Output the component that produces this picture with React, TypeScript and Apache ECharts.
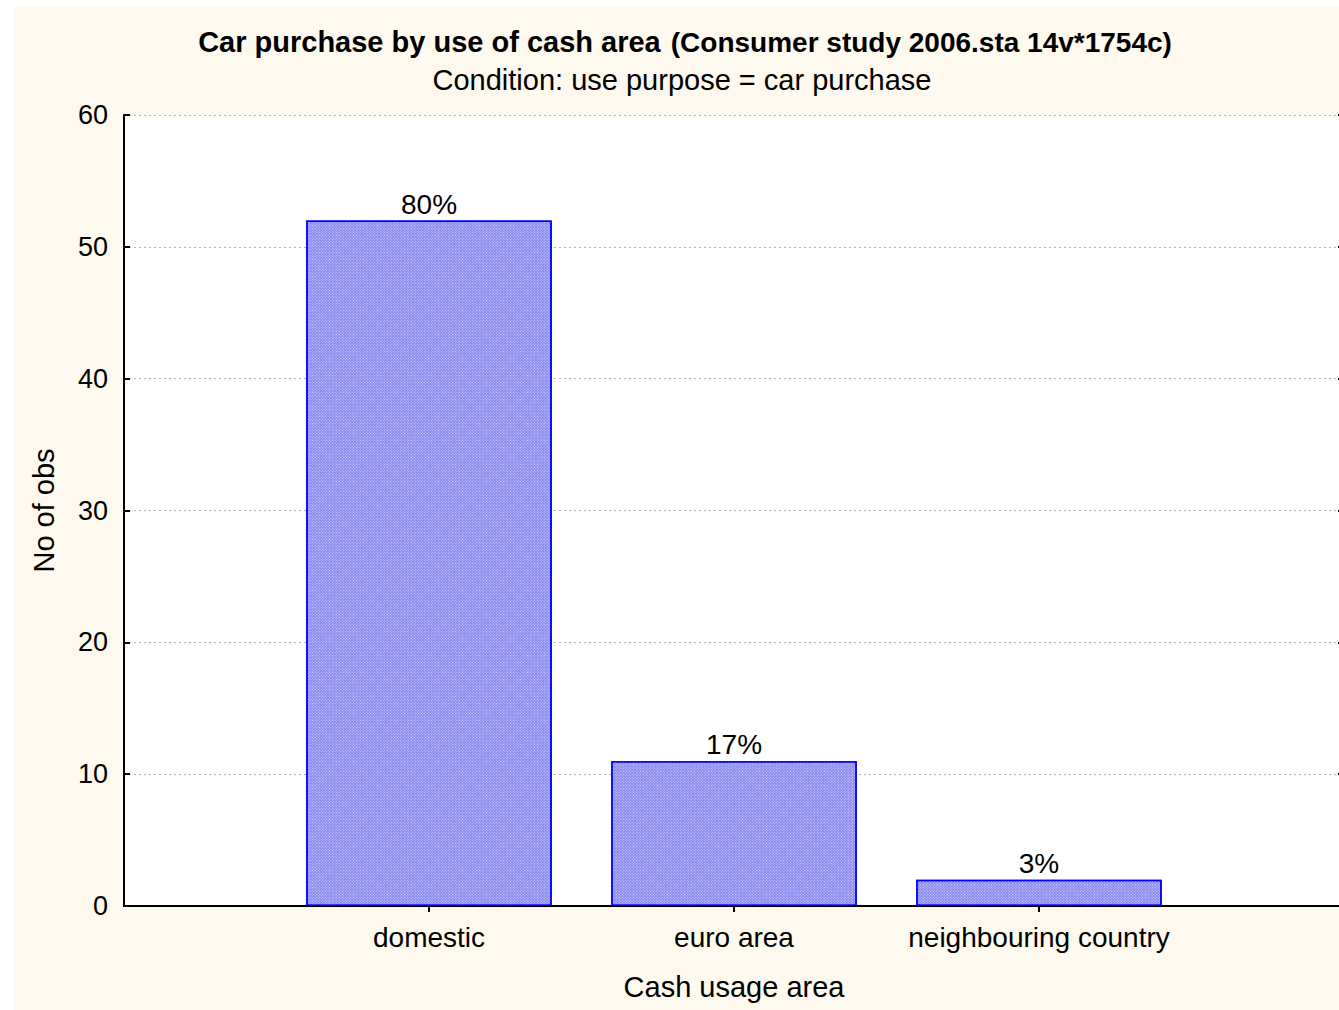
import React, { useEffect, useRef } from "react";
import * as echarts from "echarts";

const categories = ["", "domestic", "euro area", "neighbouring country", ""];
const counts: (number | string)[] = ["-", 52, 11, 2, "-"];
const yTicks = { min: 0, max: 60, interval: 10 };
const titleBold = "Car purchase by use of cash area";
const titleNormal = "(Consumer study 2006.sta 14v*1754c)";
const subTitle = "Condition: use purpose = car purchase";
const xName = "Cash usage area";
const yName = "No of obs";

const FONT = "'Liberation Sans', Arial, sans-serif";

export default function App() {
  const ref = useRef<HTMLDivElement>(null);
  useEffect(() => {
    if (!ref.current) return;
    const chart = echarts.init(ref.current, undefined, { renderer: "svg" });
    const nums = counts.filter((v) => typeof v === "number") as number[];
    const total = nums.reduce((a, b) => a + b, 0);
    const showTick = (i: number) => i > 0 && i < categories.length - 1;
    chart.setOption({
      animation: false,
      backgroundColor: "#ffffff",
      textStyle: { fontFamily: FONT, color: "#000" },
      graphic: [
        {
          type: "rect",
          z: -10,
          shape: { x: 14, y: 6, width: 1339 - 14, height: 1010 - 6 },
          style: { fill: "#fdf9ee" },
          silent: true,
        },
      ],
      title: [
        {
          left: 685,
          top: 27,
          padding: 0,
          textAlign: "center",
          text: `{b|${titleBold}}  {n|${titleNormal}}`,
          textStyle: {
            rich: {
              b: { fontFamily: FONT, fontSize: 29, fontWeight: "bold", color: "#000", lineHeight: 30 },
              n: { fontFamily: FONT, fontSize: 28, color: "#000", lineHeight: 30 },
            },
          },
        },
        {
          left: 682,
          top: 65,
          padding: 0,
          textAlign: "center",
          text: subTitle,
          textStyle: { fontFamily: FONT, fontSize: 29, fontWeight: "normal", color: "#000", lineHeight: 30 },
        },
      ],
      grid: {
        left: 124,
        top: 115,
        width: 1220,
        height: 791,
        show: true,
        backgroundColor: "#ffffff",
        borderWidth: 0,
        outerBoundsMode: "none",
        containLabel: false,
      },
      xAxis: [
        {
          type: "category",
          data: categories,
          boundaryGap: false,
          position: "bottom",
          name: xName,
          nameLocation: "middle",
          nameGap: 66,
          nameTextStyle: { fontFamily: FONT, fontSize: 29, color: "#000" },
          axisLine: { show: true, lineStyle: { color: "#000", width: 2 } },
          axisTick: { show: true, inside: true, length: 6, interval: (i: number) => showTick(i), lineStyle: { color: "#000", width: 2 } },
          axisLabel: { show: true, interval: 0, margin: 17, fontFamily: FONT, fontSize: 28, color: "#000" },
          splitLine: { show: false },
        },
        {
          type: "category",
          data: categories,
          boundaryGap: false,
          position: "top",
          axisLine: { show: true, lineStyle: { color: "#000", width: 2 } },
          axisTick: { show: true, inside: true, length: 6, interval: (i: number) => showTick(i), lineStyle: { color: "#000", width: 2 } },
          axisLabel: { show: false },
          splitLine: { show: false },
        },
      ],
      yAxis: [
        {
          type: "value",
          min: yTicks.min,
          max: yTicks.max,
          interval: yTicks.interval,
          position: "left",
          name: yName,
          nameLocation: "middle",
          nameGap: 66,
          nameTextStyle: { fontFamily: FONT, fontSize: 29, color: "#000" },
          axisLine: { show: true, lineStyle: { color: "#000", width: 2 } },
          axisTick: { show: true, inside: true, length: 6, lineStyle: { color: "#000", width: 2 } },
          axisLabel: { margin: 16, fontFamily: FONT, fontSize: 27, color: "#000" },
          splitLine: { show: true, lineStyle: { color: "#b4b4b4", type: [2, 3], width: 1 } },
        },
        {
          type: "value",
          min: yTicks.min,
          max: yTicks.max,
          interval: yTicks.interval,
          position: "right",
          axisLine: { show: true, lineStyle: { color: "#000", width: 2 } },
          axisTick: { show: true, inside: true, length: 6, lineStyle: { color: "#000", width: 2 } },
          axisLabel: { show: false },
          splitLine: { show: false },
        },
      ],
      series: [
        {
          type: "bar",
          xAxisIndex: 0,
          yAxisIndex: 0,
          data: counts,
          barWidth: "80.5%",
          itemStyle: {
            color: "#8a8af0",
            borderColor: "#0000ff",
            borderWidth: 1.5,
            decal: {
              symbol: "rect",
              symbolSize: 1,
              dashArrayX: [1, 1],
              dashArrayY: [1, 1],
              rotation: Math.PI / 4,
              color: "rgba(255,255,255,0.6)",
            },
          },
          label: {
            show: true,
            position: "top",
            distance: 2,
            fontFamily: FONT,
            fontSize: 28,
            color: "#000",
            formatter: (p: any) => `${Math.round((Number(p.value) / total) * 100)}%`,
          },
        },
      ],
    });
    return () => chart.dispose();
  }, []);
  return (
    <div
      ref={ref}
      style={{ position: "fixed", left: 0, top: 0, width: 1339, height: 1010 }}
    />
  );
}
